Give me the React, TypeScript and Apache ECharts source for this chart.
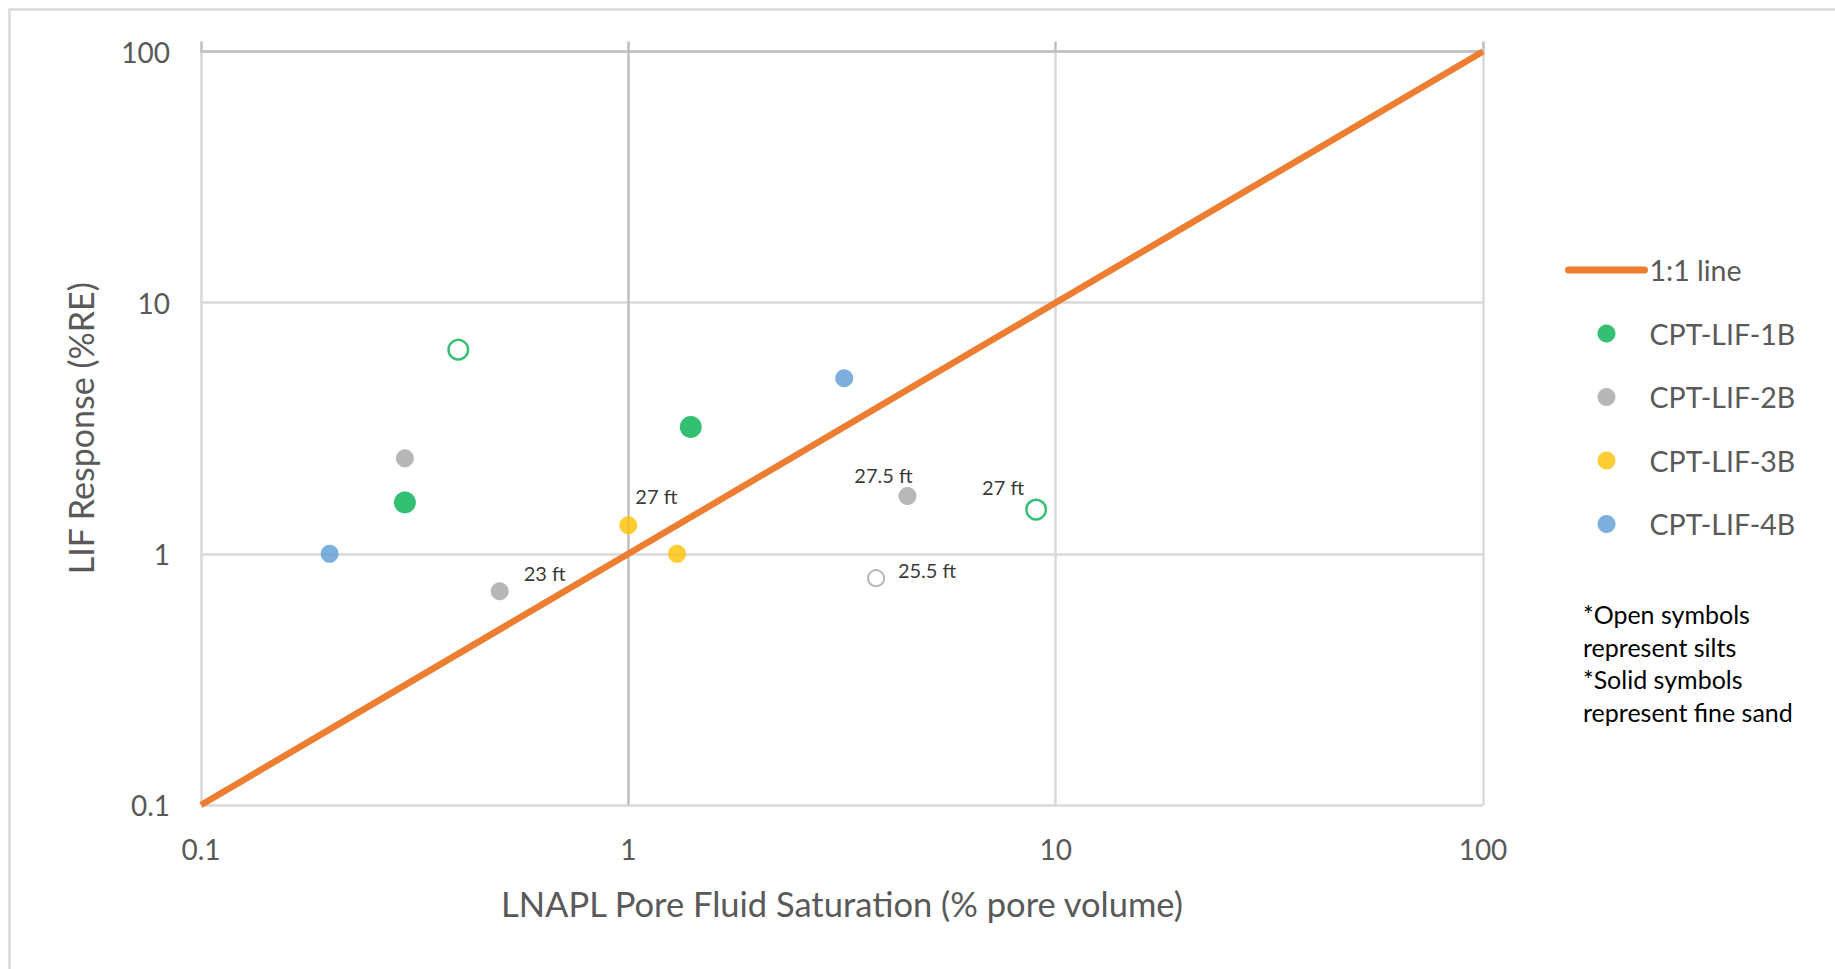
import { useEffect, useRef } from 'react';
import * as echarts from 'echarts';

// Log-scale axis ticks (both axes span 0.1 – 100)
const axisTicks = [0.1, 1, 10, 100];
const axisTickLabels = ['0.1', '1', '10', '100'];

// 1:1 reference line
const oneToOneX = [0.1, 100];
const oneToOneY = [0.1, 100];

// CPT-LIF-1B
const lif1bX = [0.3, 1.4, 0.4, 9];
const lif1bY = [1.6, 3.2, 6.5, 1.5];
const lif1bOpen = [false, false, true, true];
const lif1bLabels = ['', '', '', '27 ft'];

// CPT-LIF-2B
const lif2bX = [0.3, 0.5, 4.5, 3.8];
const lif2bY = [2.4, 0.71, 1.7, 0.8];
const lif2bOpen = [false, false, false, true];
const lif2bLabels = ['', '23 ft', '27.5 ft', '25.5 ft'];

// CPT-LIF-3B
const lif3bX = [1.0, 1.3];
const lif3bY = [1.3, 1.0];
const lif3bOpen = [false, false];
const lif3bLabels = ['27 ft', ''];

// CPT-LIF-4B
const lif4bX = [0.2, 3.2];
const lif4bY = [1.0, 5.0];
const lif4bOpen = [false, false];
const lif4bLabels = ['', ''];

const seriesNames = ['1:1 line', 'CPT-LIF-1B', 'CPT-LIF-2B', 'CPT-LIF-3B', 'CPT-LIF-4B'];
const noteLines = ['*Open symbols', 'represent silts', '*Solid symbols', 'represent fine sand'];

// Styling
const FONT = 'Lato';
const AXIS_TEXT = '#595959';
const GRID = '#d9d9d9';
const AXIS_LINE = '#bfbfbf';
const ORANGE = '#ED7D31';
const GREEN = '#00B050';
const GRAY = '#A5A5A5';
const YELLOW = '#FFC000';
const BLUE = '#5B9BD5';

// label offsets (pixels from the marker centre), per series and point
const offsets1b: number[][] = [[0, 0], [0, 0], [0, 0], [-33, -23]];
const offsets2b: number[][] = [[0, 0], [45, -18], [-24, -21], [51, -8]];
const offsets3b: number[][] = [[28, -29], [0, 0]];
const offsets4b: number[][] = [[0, 0], [0, 0]];

function buildPoints(
  xs: number[],
  ys: number[],
  open: boolean[],
  labels: string[],
  color: string,
  size: number,
  openBorder: number,
  offs: number[][]
) {
  return xs.map((x, i) => {
    const item: any = { value: [x, ys[i]] };
    if (open[i]) {
      item.symbolSize = size - openBorder;
      item.itemStyle = { color: '#ffffff', borderColor: color, borderWidth: openBorder };
    }
    if (labels[i]) {
      item.label = {
        show: true,
        formatter: labels[i],
        position: 'inside',
        offset: offs[i],
        color: '#000000',
        fontFamily: FONT,
        fontSize: 20,
      };
    }
    return item;
  });
}

function tickLabel(v: number) {
  let best = 0;
  axisTicks.forEach((t, i) => {
    if (Math.abs(Math.log10(t) - Math.log10(v)) < Math.abs(Math.log10(axisTicks[best]) - Math.log10(v))) best = i;
  });
  return axisTickLabels[best];
}

export default function App() {
  const ref = useRef<HTMLDivElement>(null);

  useEffect(() => {
    if (!ref.current) return;
    const chart = echarts.init(ref.current, undefined, { renderer: 'svg' });

    const scatterBase = (name: string, color: string, size: number, data: any[]) => ({
      name,
      type: 'scatter',
      symbol: 'circle',
      symbolSize: size,
      itemStyle: { color },
      z: 4,
      data,
    });

    chart.setOption({
      animation: false,
      backgroundColor: '#ffffff',
      grid: { left: 201, right: 352, top: 51.5, bottom: 164, containLabel: false },
      xAxis: [
        {
          type: 'log',
          logBase: 10,
          min: 0.1,
          max: 100,
          position: 'bottom',
          name: 'LNAPL Pore Fluid Saturation (% pore volume)',
          nameLocation: 'middle',
          nameGap: 81,
          nameTextStyle: { color: AXIS_TEXT, fontFamily: FONT, fontSize: 34.5 },
          axisLine: { show: false },
          axisTick: { show: false },
          minorTick: { show: false },
          axisLabel: {
            color: AXIS_TEXT,
            fontFamily: FONT,
            fontSize: 28,
            margin: 30,
            formatter: (v: number) => tickLabel(v),
          },
          splitLine: {
            show: true,
            lineStyle: { color: [GRID, AXIS_LINE, GRID, GRID], width: 2.5 },
          },
        },
        {
          type: 'log',
          logBase: 10,
          min: 0.1,
          max: 100,
          position: 'top',
          axisLine: { show: true, lineStyle: { color: AXIS_LINE, width: 2.5 } },
          axisTick: { show: true, inside: false, length: 10, lineStyle: { color: AXIS_LINE, width: 2.5 } },
          axisLabel: { show: false },
          splitLine: { show: false },
        },
      ],
      yAxis: {
        type: 'log',
        logBase: 10,
        min: 0.1,
        max: 100,
        name: 'LIF Response (%RE)',
        nameLocation: 'middle',
        nameGap: 104,
        nameTextStyle: { color: AXIS_TEXT, fontFamily: FONT, fontSize: 34 },
        axisLine: { show: false },
        axisTick: { show: false },
        axisLabel: {
          color: AXIS_TEXT,
          fontFamily: FONT,
          fontSize: 28,
          margin: 31,
          formatter: (v: number) => tickLabel(v),
        },
        splitLine: { show: true, lineStyle: { color: GRID, width: 2.5 } },
      },
      legend: {
        orient: 'vertical',
        left: 1565,
        top: 255,
        padding: 0,
        itemWidth: 76,
        itemHeight: 18,
        itemGap: 33.5,
        textStyle: { color: AXIS_TEXT, fontFamily: FONT, fontSize: 28.5, lineHeight: 30 },
        lineStyle: { width: 7, cap: 'round' },
        data: [
          { name: seriesNames[0], itemStyle: { opacity: 0 } },
          { name: seriesNames[1], icon: 'circle' },
          { name: seriesNames[2], icon: 'circle' },
          { name: seriesNames[3], icon: 'circle' },
          { name: seriesNames[4], icon: 'circle' },
        ],
      },
      graphic: [
        {
          type: 'rect',
          silent: true,
          shape: { x: 9.5, y: 9.5, width: 1900, height: 1000 },
          style: { fill: 'none', stroke: GRID, lineWidth: 2.5 },
          z: -10,
        },
        {
          type: 'text',
          left: 1583,
          top: 598,
          style: {
            text: noteLines.join('\n'),
            fill: '#000000',
            font: `25px ${FONT}`,
            lineHeight: 32.5,
          },
        },
      ],
      series: [
        {
          name: seriesNames[0],
          type: 'line',
          symbol: 'none',
          z: 3,
          lineStyle: { color: ORANGE, width: 6.5, cap: 'butt' },
          itemStyle: { color: ORANGE },
          data: oneToOneX.map((x, i) => [x, oneToOneY[i]]),
        },
        scatterBase(seriesNames[1], GREEN, 22, buildPoints(lif1bX, lif1bY, lif1bOpen, lif1bLabels, GREEN, 22, 2.5, offsets1b)),
        scatterBase(seriesNames[2], GRAY, 18, buildPoints(lif2bX, lif2bY, lif2bOpen, lif2bLabels, GRAY, 18, 2, offsets2b)),
        scatterBase(seriesNames[3], YELLOW, 18, buildPoints(lif3bX, lif3bY, lif3bOpen, lif3bLabels, YELLOW, 18, 2, offsets3b)),
        scatterBase(seriesNames[4], BLUE, 18, buildPoints(lif4bX, lif4bY, lif4bOpen, lif4bLabels, BLUE, 18, 2, offsets4b)),
      ],
    });

    return () => chart.dispose();
  }, []);

  return (
    <div
      ref={ref}
      style={{ position: 'fixed', left: 0, top: 0, width: 1835, height: 969, background: '#ffffff' }}
    />
  );
}
